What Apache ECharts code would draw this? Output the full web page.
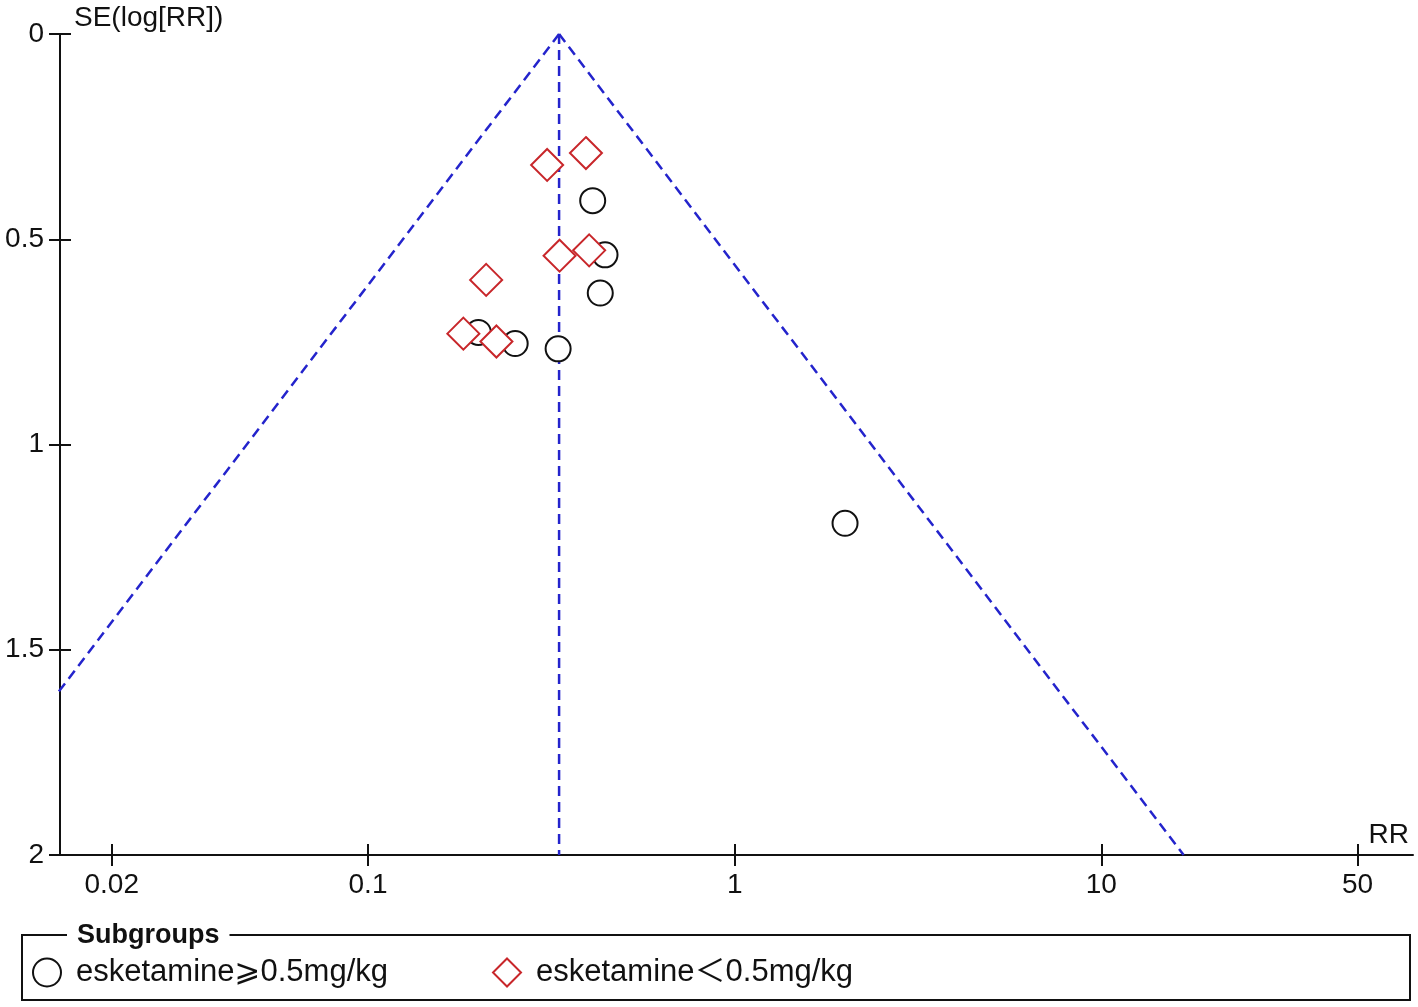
<!DOCTYPE html>
<html>
<head>
<meta charset="utf-8">
<title>Funnel plot</title>
<script src="https://cdn.jsdelivr.net/npm/echarts@6/dist/echarts.min.js"></script>
<style>
  html, body {margin: 0; padding: 0; background: #fff;}
  #chart {width: 1418px; height: 1007px;}
</style>
</head>
<body>
<div id="chart"></div>
<script>
// subgroup: esketamine >= 0.5 mg/kg (circles)
const highRR = [0.410, 0.443, 0.430, 0.200, 0.252, 0.330, 2.00]
const highSE = [0.406, 0.538, 0.631, 0.727, 0.754, 0.767, 1.192]

// subgroup: esketamine < 0.5 mg/kg (diamonds)
const lowRR = [0.308, 0.393, 0.333, 0.401, 0.210, 0.182, 0.224]
const lowSE = [0.319, 0.290, 0.540, 0.527, 0.599, 0.730, 0.749]

// funnel (pooled RR and 95% limits)
const pooledRR = 0.332
const funnelLeftRR = [0.332, 0.00657]
const funnelRightRR = [0.332, 16.77]
const funnelSE = [0, 2]

// axis ticks
const xTicks = [0.02, 0.1, 1, 10, 50]
const xTickLabels = ['0.02', '0.1', '1', '10', '50']

const seriesNames = ['esketamine⩾0.5mg/kg', 'esketamine＜0.5mg/kg']

const font = '"Liberation Sans", Arial, "DejaVu Sans", "Noto Sans CJK SC", sans-serif'
const lg = Math.log10
const xMin = -1.84
const xMax = 1.85
const blue = '#2424cc'
const ink = '#111'

const pts = (rr, se) => rr.map((v, i) => [lg(v), se[i]])
const xTickVals = xTicks.map(lg)

/** @param {number} v */
function xLabel(v) {
  const i = xTickVals.findIndex(t => Math.abs(t - v) < 1e-6)
  return i >= 0 ? xTickLabels[i] : ''
}

const funnelStyle = {color: blue, width: 2.5, type: [10, 6]}
const tickStyle = {color: ink, width: 2}

const chart = echarts.init(document.getElementById('chart'))

const option = {
  backgroundColor: '#fff',
  animation: false,
  textStyle: {fontFamily: font},
  grid: {left: 60, right: 5, top: 34, bottom: 152},
  xAxis: [
    {
      type: 'value',
      min: xMin,
      max: xMax,
      name: 'RR',
      nameLocation: 'end',
      nameGap: -4,
      nameTextStyle: {
        fontSize: 28, color: ink, fontFamily: font,
        align: 'right', verticalAlign: 'bottom', padding: [0, 0, 6, 0],
      },
      axisLine: {onZero: false, lineStyle: {color: ink, width: 2}},
      axisTick: {show: true, customValues: xTickVals, length: 11, lineStyle: tickStyle},
      axisLabel: {
        customValues: xTickVals, formatter: xLabel, margin: 16,
        fontSize: 28, color: ink, fontFamily: font,
      },
      splitLine: {show: false},
    },
    {
      // inner half of the crossing ticks
      type: 'value',
      position: 'bottom',
      min: xMin,
      max: xMax,
      axisLine: {show: false, onZero: false},
      axisTick: {show: true, inside: true, customValues: xTickVals, length: 11, lineStyle: tickStyle},
      axisLabel: {show: false},
      splitLine: {show: false},
    },
  ],
  yAxis: [
    {
      type: 'value',
      inverse: true,
      min: 0,
      max: 2,
      interval: 0.5,
      name: 'SE(log[RR])',
      nameLocation: 'start',
      nameGap: 2,
      nameTextStyle: {
        fontSize: 28, color: ink, fontFamily: font,
        align: 'left', verticalAlign: 'bottom', padding: [0, 0, 0, 14],
      },
      axisLine: {onZero: false, lineStyle: {color: ink, width: 2}},
      axisTick: {show: true, length: 11, lineStyle: tickStyle},
      axisLabel: {
        margin: 16, fontSize: 28, color: ink, fontFamily: font,
        showMinLabel: true, showMaxLabel: true,
        formatter: v => String(v),
      },
      splitLine: {show: false},
    },
    {
      type: 'value',
      position: 'left',
      inverse: true,
      min: 0,
      max: 2,
      interval: 0.5,
      axisLine: {show: false, onZero: false},
      axisTick: {show: true, inside: true, length: 11, lineStyle: tickStyle},
      axisLabel: {show: false},
      splitLine: {show: false},
    },
  ],
  legend: {
    left: 27,
    top: 952,
    itemWidth: 28,
    itemHeight: 28,
    itemGap: 104,
    data: seriesNames,
    textStyle: {fontSize: 31, color: ink, fontFamily: font, padding: [10, 0, 0, 10]},
  },
  graphic: [
    {
      type: 'rect',
      shape: {x: 22, y: 935, width: 1388, height: 65},
      style: {fill: 'none', stroke: ink, lineWidth: 2},
      z: 1,
    },
    {
      type: 'text',
      left: 67,
      top: 922,
      style: {
        text: 'Subgroups', fontSize: 27, fontWeight: 'bold', fontFamily: font,
        fill: ink, backgroundColor: '#fff', padding: [0, 10, 0, 10],
      },
      z: 2,
    },
  ],
  series: [
    {
      type: 'line',
      data: funnelLeftRR.map((v, i) => [lg(v), funnelSE[i]]),
      symbol: 'none',
      lineStyle: funnelStyle,
      silent: true,
      z: 1,
    },
    {
      type: 'line',
      data: funnelRightRR.map((v, i) => [lg(v), funnelSE[i]]),
      symbol: 'none',
      lineStyle: funnelStyle,
      silent: true,
      z: 1,
    },
    {
      type: 'line',
      data: funnelSE.map(se => [lg(pooledRR), se]),
      symbol: 'none',
      lineStyle: funnelStyle,
      silent: true,
      z: 1,
    },
    {
      name: seriesNames[0],
      type: 'scatter',
      data: pts(highRR, highSE),
      symbol: 'emptyCircle',
      symbolSize: 25,
      itemStyle: {color: ink, borderColor: ink, borderWidth: 2.2, opacity: 1},
      z: 3,
    },
    {
      name: seriesNames[1],
      type: 'scatter',
      data: pts(lowRR, lowSE),
      symbol: 'emptyDiamond',
      symbolSize: 32,
      itemStyle: {color: '#c8262a', borderColor: '#c8262a', borderWidth: 2.2, opacity: 1},
      z: 3,
    },
  ],
}

chart.setOption(option)
</script>
</body>
</html>
